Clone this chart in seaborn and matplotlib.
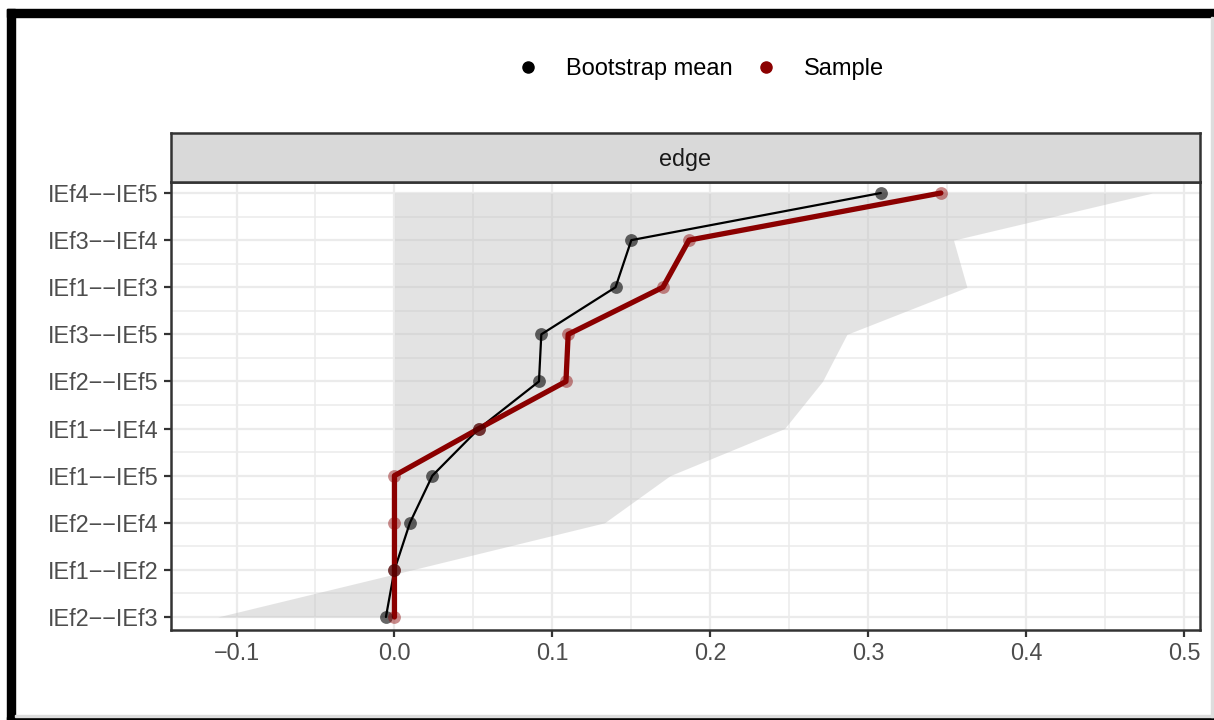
import numpy as np
import pandas as pd
import matplotlib
matplotlib.use("Agg")
import matplotlib.pyplot as plt
import seaborn as sns
from matplotlib.lines import Line2D
from matplotlib.patches import Rectangle

# ---------------- data ----------------
edges = ["IEf4\u2212\u2212IEf5", "IEf3\u2212\u2212IEf4", "IEf1\u2212\u2212IEf3", "IEf3\u2212\u2212IEf5",
         "IEf2\u2212\u2212IEf5", "IEf1\u2212\u2212IEf4", "IEf1\u2212\u2212IEf5", "IEf2\u2212\u2212IEf4",
         "IEf1\u2212\u2212IEf2", "IEf2\u2212\u2212IEf3"]
boot_mean = [0.308, 0.150, 0.140, 0.093, 0.0915, 0.0535, 0.024, 0.0098, 0.0, -0.0054]
sample = [0.346, 0.1865, 0.170, 0.110, 0.1086, 0.0535, 0.0, 0.0, 0.0, 0.0]
ci_lower = [0.0, 0.0, 0.0, 0.0, 0.0, 0.0, 0.0, 0.0, 0.0, 0.0]
ci_upper = [0.480, 0.354, 0.3625, 0.2865, 0.271, 0.247, 0.1745, 0.133, 0.011, -0.112]
x_ticks = [-0.1, 0.0, 0.1, 0.2, 0.3, 0.4, 0.5]
x_tick_labels = ["\u22120.1", "0.0", "0.1", "0.2", "0.3", "0.4", "0.5"]
legend_labels = ["Bootstrap mean", "Sample"]
facet_label = "edge"

# ---------------- style ----------------
sns.set_theme(style="white")
plt.rcParams["font.family"] = ["Liberation Sans", "DejaVu Sans"]

W, H = 1214, 720
fig = plt.figure(figsize=(W / 100, H / 100), dpi=100)

def fx(px):
    return px / W

def fy(py):
    return 1 - py / H

pan_l, pan_r, pan_t, pan_b = 171, 1200, 182, 630
strip_t = 133
ax = fig.add_axes([fx(pan_l), fy(pan_b), fx(pan_r - pan_l), (pan_b - pan_t) / H])
sax = fig.add_axes([fx(pan_l), fy(pan_t), fx(pan_r - pan_l), (pan_t - strip_t) / H])

pos = np.arange(len(edges))
red = "#8B0000"

# ribbon
ax.fill_betweenx(pos, ci_lower, ci_upper, color="#BEBEBE", alpha=0.42, lw=0, zorder=1)

# lines
sns.lineplot(x=boot_mean, y=pos, sort=False, estimator=None, color="black",
             lw=1.6, ax=ax, zorder=3)
sns.lineplot(x=sample, y=pos, sort=False, estimator=None, color=red,
             lw=3.8, ax=ax, zorder=4)
# points
sns.scatterplot(x=boot_mean, y=pos, color="black", alpha=0.6, s=85,
                linewidth=0, ax=ax, zorder=5)
sns.scatterplot(x=sample, y=pos, color=red, alpha=0.45, s=85,
                linewidth=0, ax=ax, zorder=6)

# axes
ax.set_xlim(-0.1415, 0.5101)
ax.set_ylim(len(edges) - 1 + 0.276, -0.234)
ax.set_xticks(x_ticks)
ax.set_xticklabels(x_tick_labels)
ax.set_xticks(np.array(x_ticks[:-1]) + 0.05, minor=True)
ax.set_yticks(pos)
ax.set_yticklabels(edges)
ax.set_yticks(pos[:-1] + 0.5, minor=True)
ax.set_xlabel("")
ax.set_ylabel("")
ax.set_axisbelow(True)
ax.grid(which="major", color="#EBEBEB", lw=1.6)
ax.grid(which="minor", color="#EBEBEB", lw=1.1)
ax.tick_params(which="major", length=5, width=1.6, color="#333333",
               labelcolor="#4D4D4D", labelsize=16.8, pad=4,
               bottom=True, left=True)
ax.tick_params(which="minor", length=0)
for s in ax.spines.values():
    s.set_visible(True)
    s.set_color("#333333")
    s.set_linewidth(1.8)
ax.set_facecolor("white")

# strip
sax.set_facecolor("#D9D9D9")
sax.set_xticks([])
sax.set_yticks([])
for s in sax.spines.values():
    s.set_visible(True)
    s.set_color("#333333")
    s.set_linewidth(1.8)
sax.text(0.5, 0.45, facet_label, ha="center", va="center", fontsize=16.8,
         color="#1A1A1A", transform=sax.transAxes)

# legend
handles = [Line2D([], [], ls="none", marker="o", color="black", markersize=8),
           Line2D([], [], ls="none", marker="o", color=red, markersize=8)]
fig.legend(handles, legend_labels, loc="center", bbox_to_anchor=(fx(700), fy(69)),
           ncol=2, frameon=False, fontsize=17, handlelength=1.0,
           handletextpad=1.1, columnspacing=0.93, labelcolor="black")

# outer frame
fig.patches.append(Rectangle((fx(7), fy(17)), 1 - fx(7), 8 / H, transform=fig.transFigure,
                             color="black", zorder=10))
fig.patches.append(Rectangle((fx(7), 0), fx(8), fy(9), transform=fig.transFigure,
                             color="black", zorder=10))
fig.patches.append(Rectangle((fx(7), 0), 1 - fx(7), 3 / H, transform=fig.transFigure,
                             color="black", zorder=10))
fig.patches.append(Rectangle((fx(15), 3 / H), 1 - fx(15), 2 / H, transform=fig.transFigure,
                             color="#DDDDDD", zorder=10))
fig.patches.append(Rectangle((fx(1211), 3 / H), fx(2), fy(17) - 3 / H, transform=fig.transFigure,
                             color="#DDDDDD", zorder=10))

fig.savefig("out.png", dpi=100)
